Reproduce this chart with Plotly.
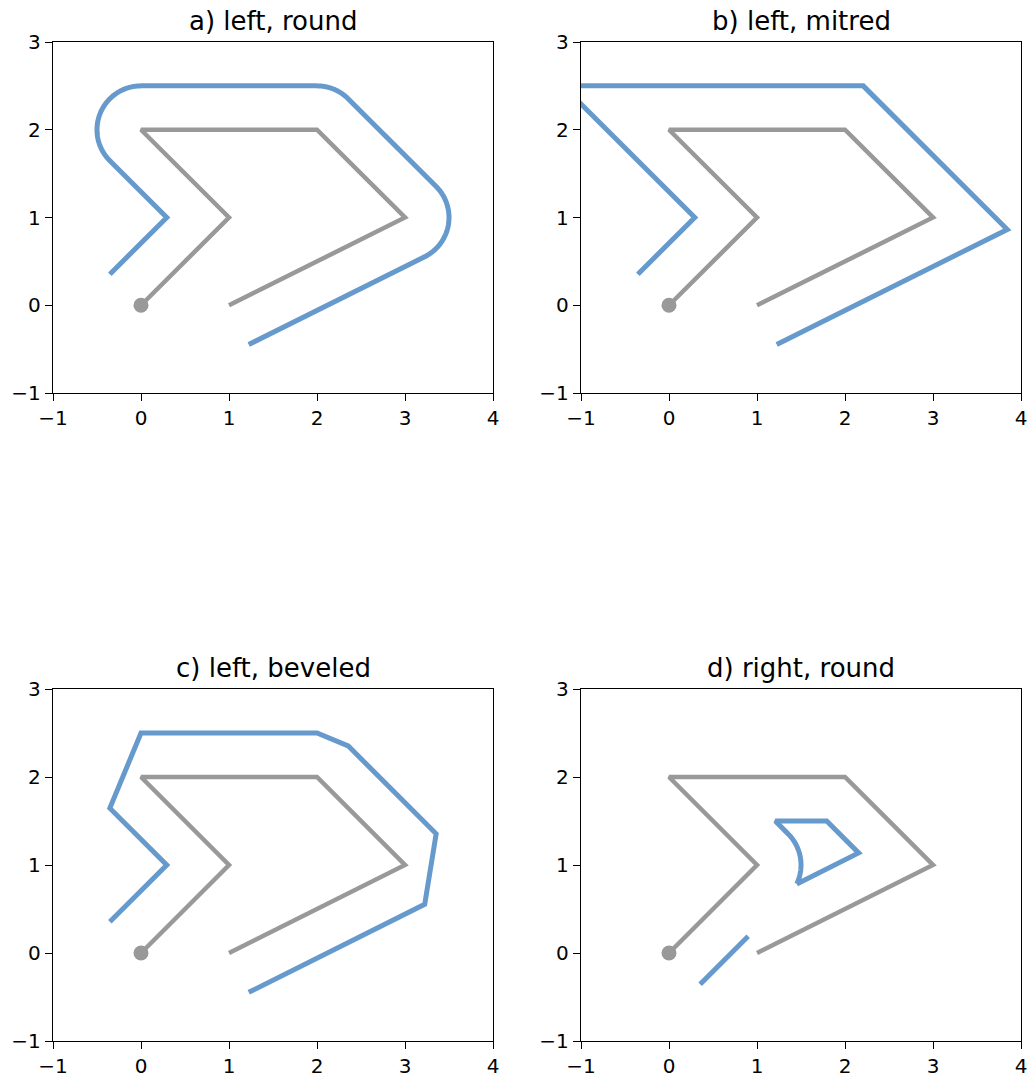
import numpy as np
import plotly.graph_objects as go

# Gray source line
line_x = [0, 1, 0, 2, 3, 1]
line_y = [0, 1, 2, 2, 1, 0]

titles = ["a) left, round", "b) left, mitred", "c) left, beveled", "d) right, round"]

# Offset line vertices; arcs given as (cx, cy, r, a0_deg, a1_deg)
# a) left, round
a_pts = [
    ("pt", -0.354, 0.354), ("pt", 0.293, 1.0), ("pt", -0.354, 1.646),
    ("arc", 0, 2, 0.5, 225, 90),
    ("pt", 2.0, 2.5),
    ("arc", 2, 2, 0.5, 90, 45),
    ("pt", 3.354, 1.354),
    ("arc", 3, 1, 0.5, 45, -63.4),
    ("pt", 1.224, -0.447),
]
# b) left, mitred
b_x = [-0.354, 0.293, -1.207, 2.207, 3.844, 1.224]
b_y = [0.354, 1.0, 2.5, 2.5, 0.863, -0.447]
# c) left, beveled
c_x = [-0.354, 0.293, -0.354, 0.0, 2.0, 2.354, 3.354, 3.224, 1.224]
c_y = [0.354, 1.0, 1.646, 2.5, 2.5, 2.354, 1.354, 0.553, -0.447]
# d) right, round: a segment and a closed piece
d1_x = [0.354, 0.90]
d1_y = [-0.354, 0.19]
d2_pts = [
    ("arc", 1, 1, 0.5, -25.4, 45),
    ("pt", 1.208, 1.5), ("pt", 1.792, 1.5), ("pt", 2.155, 1.137), ("pt", 1.452, 0.785),
]

BLUE = "#6699cc"
GRAY = "#999999"


def expand(pts):
    xs, ys = [], []
    for p in pts:
        if p[0] == "pt":
            xs.append(p[1]); ys.append(p[2])
        else:
            _, cx, cy, r, a0, a1 = p
            t = np.radians(np.linspace(a0, a1, 80))
            xs += list(cx + r * np.cos(t)); ys += list(cy + r * np.sin(t))
    return xs, ys


ax_x, ax_y = expand(a_pts)
d2x, d2y = expand(d2_pts)

blue_sets = [
    [(ax_x, ax_y)],
    [(b_x, b_y)],
    [(c_x, c_y)],
    [(d1_x, d1_y), (d2x, d2y)],
]

W, H = 1031, 1079
xdoms = [(53 / W, 493 / W), (581 / W, 1021 / W)]
ydoms = [(1 - 393 / H, 1 - 42 / H), (1 - 1041 / H, 1 - 689 / H)]

fig = go.Figure()
for i in range(4):
    r, c = divmod(i, 2)
    n = "" if i == 0 else str(i + 1)
    xa, ya = "x" + n, "y" + n
    for bx, by in blue_sets[i]:
        fig.add_trace(go.Scatter(x=bx, y=by, mode="lines", xaxis=xa, yaxis=ya,
                                 line=dict(color=BLUE, width=5, simplify=False),
                                 hoverinfo="skip", showlegend=False))
    fig.add_trace(go.Scatter(x=line_x, y=line_y, mode="lines", xaxis=xa, yaxis=ya,
                             line=dict(color=GRAY, width=4.5), showlegend=False))
    fig.add_trace(go.Scatter(x=[line_x[0]], y=[line_y[0]], mode="markers", xaxis=xa, yaxis=ya,
                             marker=dict(color=GRAY, size=15), showlegend=False))
    axcommon = dict(showline=True, mirror=True, linecolor="black", linewidth=1.3,
                    ticks="outside", ticklen=7, tickwidth=1.3, tickcolor="black",
                    showgrid=False, zeroline=False, automargin=False,
                    tickfont=dict(size=20, color="black", family="DejaVu Sans"),
                    dtick=1)
    fig.layout["xaxis" + n] = dict(domain=xdoms[c], range=[-1, 4], anchor=ya,
                                   tick0=-1, **axcommon)
    fig.layout["yaxis" + n] = dict(domain=ydoms[r], range=[-1, 3], anchor=xa,
                                   tick0=-1, **axcommon)
    fig.add_annotation(text=titles[i], xref="paper", yref="paper",
                       x=sum(xdoms[c]) / 2, y=ydoms[r][1], xanchor="center",
                       yanchor="bottom", yshift=4, showarrow=False,
                       font=dict(size=26, color="black", family="DejaVu Sans"))

fig.update_layout(width=W, height=H, autosize=False,
                  margin=dict(l=0, r=0, t=0, b=0, pad=0),
                  plot_bgcolor="white", paper_bgcolor="white",
                  font=dict(family="DejaVu Sans", color="black"))
fig.write_html("out.html", config={"displayModeBar": False},
               post_script="document.body.style.margin='0';")
